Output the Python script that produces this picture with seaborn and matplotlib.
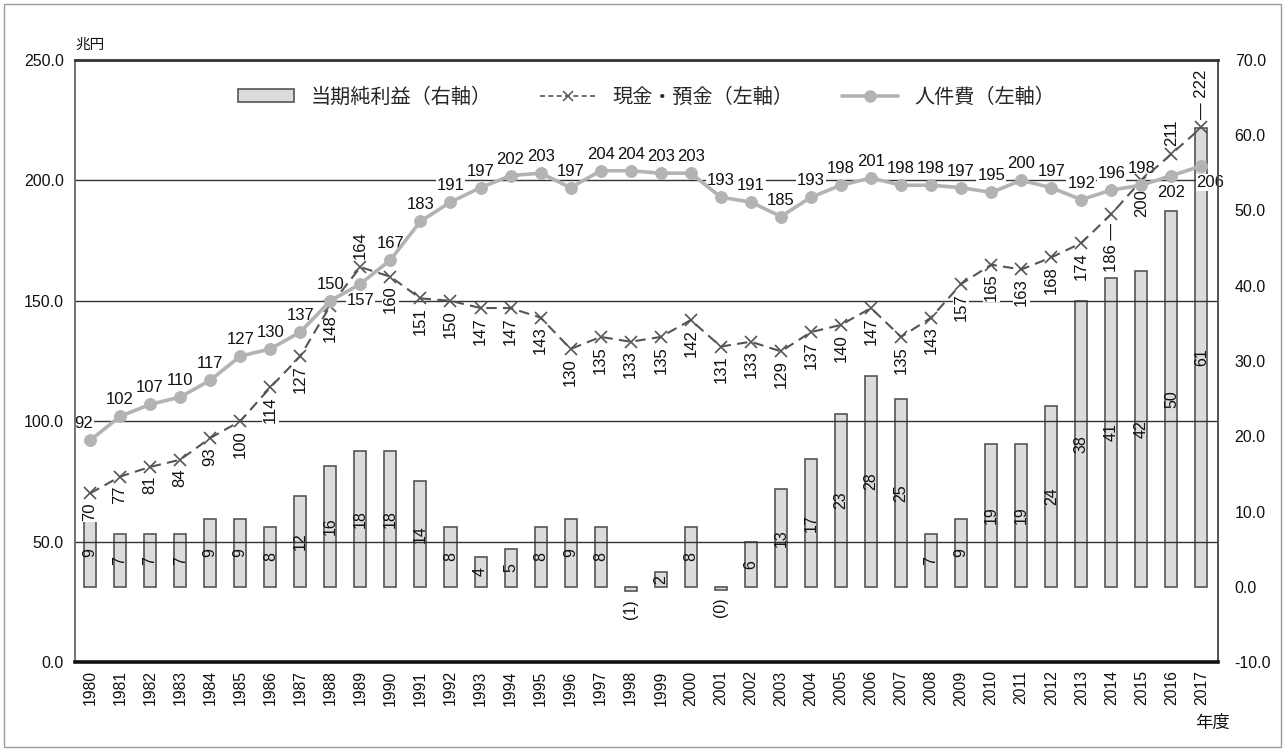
import numpy as np
import pandas as pd
import matplotlib
matplotlib.use('Agg')
import matplotlib.pyplot as plt
import seaborn as sns
from matplotlib.lines import Line2D
from matplotlib.patches import Patch, Rectangle
from matplotlib.ticker import FormatStrFormatter

# データ（単位：兆円）
years = list(range(1980, 2018))
profit = [9, 7, 7, 7, 9, 9, 8, 12, 16, 18, 18, 14, 8, 4, 5, 8, 9, 8, -0.6, 2,
          8, -0.4, 6, 13, 17, 23, 28, 25, 7, 9, 19, 19, 24, 38, 41, 42, 50, 61]
cash = [70, 77, 81, 84, 93, 100, 114, 127, 148, 164, 160, 151, 150, 147, 147, 143, 130, 135, 133, 135,
        142, 131, 133, 129, 137, 140, 147, 135, 143, 157, 165, 163, 168, 174, 186, 200, 211, 222]
personnel = [92, 102, 107, 110, 117, 127, 130, 137, 150, 157, 167, 183, 191, 197, 202, 203, 197, 204, 204, 203,
             203, 193, 191, 185, 193, 198, 201, 198, 198, 197, 195, 200, 197, 192, 196, 198, 202, 206]
series_names = ['当期純利益（右軸）', '現金・預金（左軸）', '人件費（左軸）']

sns.set_theme(style='white')
plt.rcParams['font.family'] = ['Liberation Sans', 'Noto Sans CJK JP', 'DejaVu Sans']
NARROW = ['Liberation Sans Narrow', 'Liberation Sans', 'Noto Sans CJK JP']
JP = ['Noto Sans CJK JP', 'DejaVu Sans']

BAR_FACE = '#dcdcdc'
BAR_EDGE = '#555555'
CASH_C = '#555555'
PERS_C = '#b3b3b5'

df = pd.DataFrame({
    '年度': [str(y) for y in years],
    'pos': np.arange(len(years)),
    '当期純利益': profit,
    '現金・預金': cash,
    '人件費': personnel,
})

fig = plt.figure(figsize=(12.85, 7.51), dpi=100)
ax = fig.add_axes([75 / 1285, 89 / 751, 1143 / 1285, 602 / 751])

# 棒グラフ（右軸）
sns.barplot(data=df, x='年度', y='当期純利益', ax=ax, width=0.4, color=BAR_FACE,
            edgecolor=BAR_EDGE, linewidth=1.2, saturation=1)
ax.set_ylim(-10, 70)
ax.set_xlim(-0.5, 37.55)
ax.set_xlabel('')
ax.set_ylabel('')
for s in ax.spines.values():
    s.set_visible(False)

# 折れ線（左軸）
ax2 = ax.twinx()
sns.lineplot(data=df, x='pos', y='現金・預金', ax=ax2, color=CASH_C, linestyle=(0, (5, 3)),
             linewidth=1.5, marker='x', markersize=8.5, markeredgewidth=1.2,
             markeredgecolor=CASH_C, zorder=3)
sns.lineplot(data=df, x='pos', y='人件費', ax=ax2, color=PERS_C, linewidth=2.6,
             marker='o', markersize=8.5, markeredgecolor=PERS_C, zorder=3)
ax2.set_ylim(0, 250)
ax2.set_xlim(-0.5, 37.55)

# 軸の左右を入れ替え（twinx の後で設定）
ax.yaxis.tick_right()
ax.yaxis.set_label_position('right')
ax2.yaxis.tick_left()
ax2.yaxis.set_label_position('left')

ax.set_yticks(range(-10, 71, 10))
ax.yaxis.set_major_formatter(FormatStrFormatter('%.1f'))
ax.tick_params(axis='y', which='both', left=False, labelleft=False, right=False, labelright=True,
               length=0, pad=12, labelsize=11.5, colors='#111')
ax.tick_params(axis='x', length=0, pad=6, labelsize=11.3, colors='#111')
for lab in ax.get_xticklabels():
    lab.set_rotation(90)

ax2.set_yticks(range(0, 251, 50))
ax2.yaxis.set_major_formatter(FormatStrFormatter('%.1f'))
ax2.tick_params(axis='y', which='both', right=False, labelright=False, left=False, labelleft=True,
                length=0, pad=8, labelsize=11.5, colors='#111')
ax2.set_axisbelow(True)
ax2.grid(axis='y', color='#333333', linewidth=1.0)
ax2.set_xlabel('')
ax2.set_ylabel('')
ax2.spines['left'].set_color('#666666')
ax2.spines['left'].set_linewidth(1.3)
ax2.spines['bottom'].set_color('#111111')
ax2.spines['bottom'].set_linewidth(2.6)
ax2.spines['top'].set_color('#333333')
ax2.spines['top'].set_linewidth(2.0)
ax2.spines['right'].set_color('#444444')
ax2.spines['right'].set_linewidth(1.3)

box = dict(facecolor='white', edgecolor='none', pad=0.6)

# 棒のラベル
for i, v in enumerate(profit):
    if v > 0:
        ax.text(i, v / 2, f'{round(v)}', rotation=90, ha='center', va='center',
                fontsize=11.5, family=NARROW, color='#111', zorder=4)
    else:
        ax.annotate(f'({abs(round(v))})', (i, v), xytext=(0, -8), textcoords='offset pixels',
                    rotation=90, ha='center', va='top', fontsize=11.5, family=NARROW, color='#111')

# 現金・預金のラベル（縦書き）
cash_above = {1989, 2016, 2017}
for i, (y, v) in enumerate(zip(years, cash)):
    txt = str(v)
    if y == 2014:
        txt = f'{v} ―'
    if y == 2017:
        txt = f'― {v}'
    if y in cash_above:
        ax2.annotate(txt, (i, v), xytext=(0, 8), textcoords='offset pixels', rotation=90,
                     ha='center', va='bottom', fontsize=12, family=NARROW, color='#111',
                     bbox=box, zorder=1.5)
    else:
        ax2.annotate(txt, (i, v), xytext=(0, -9), textcoords='offset pixels', rotation=90,
                     ha='center', va='top', fontsize=12, family=NARROW, color='#111',
                     bbox=box, zorder=1.5)

# 人件費のラベル
pers_below = {1989, 2016, 2017}
pers_dx = {1980: -6, 2017: 9}
for i, (y, v) in enumerate(zip(years, personnel)):
    dx = pers_dx.get(y, 0)
    if y in pers_below:
        ax2.annotate(str(v), (i, v), xytext=(dx, -9), textcoords='offset pixels',
                     ha='center', va='top', fontsize=12, family=NARROW, color='#111',
                     bbox=box, zorder=1.5)
    else:
        ax2.annotate(str(v), (i, v), xytext=(dx, 9), textcoords='offset pixels',
                     ha='center', va='bottom', fontsize=12, family=NARROW, color='#111',
                     bbox=box, zorder=1.5)

# 凡例
handles = [
    Patch(facecolor=BAR_FACE, edgecolor=BAR_EDGE, linewidth=1.2),
    Line2D([], [], color=CASH_C, linestyle=(0, (3, 2)), linewidth=1.2, marker='x',
           markersize=7, markeredgewidth=1.1),
    Line2D([], [], color=PERS_C, linewidth=2.6, marker='o', markersize=8),
]
leg = ax2.legend(handles, series_names, loc='center', bbox_to_anchor=(0.5, 0.938), ncol=3,
                 frameon=False, handlelength=2.8, handleheight=0.6,
                 columnspacing=2.4, handletextpad=0.8, prop={'family': JP, 'size': 14.5})

fig.text(75 / 1285, 1 - 45 / 751, '兆円', ha='left', va='center', fontsize=10.5, family=JP, color='#111')
fig.text(1213 / 1285, 1 - 723 / 751, '年度', ha='center', va='center', fontsize=12.5, family=JP, color='#111')

fig.add_artist(Rectangle((0.003, 0.005), 0.994, 0.99, transform=fig.transFigure,
                         fill=False, edgecolor='#999999', linewidth=1))

fig.savefig('out.png', dpi=100)
